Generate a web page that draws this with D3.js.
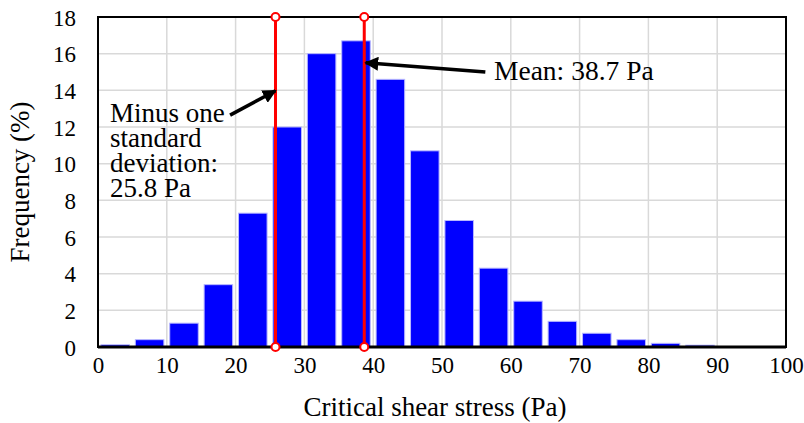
<!DOCTYPE html>
<html>
<head>
<meta charset="utf-8">
<script src="https://cdn.jsdelivr.net/npm/d3@7"></script>
<style>
  html, body { margin: 0; padding: 0; background: #fff; }
  svg text { font-family: "Times New Roman", "Liberation Serif", Tinos, "DejaVu Serif", serif !important; }
</style>
</head>
<body>
<svg id="chart" width="804" height="423"></svg>
<script>
// Histogram of critical shear stress, 5 Pa bins
const binStarts = [0, 5, 10, 15, 20, 25, 30, 35, 40, 45, 50, 55, 60, 65, 70, 75, 80, 85, 90, 95];
const frequency = [0.12, 0.4, 1.3, 3.4, 7.3, 12.0, 16.0, 16.7, 14.6, 10.7, 6.9, 4.3, 2.5, 1.4, 0.75, 0.4, 0.2, 0.1, 0, 0];
const binWidth = 5;

const xTicks = [0, 10, 20, 30, 40, 50, 60, 70, 80, 90, 100];
const yTicks = [0, 2, 4, 6, 8, 10, 12, 14, 16, 18];

const meanValue = 38.7;
const minusSdValue = 25.8;
const xLabel = "Critical shear stress (Pa)";
const yLabel = "Frequency (%)";
const meanLabel = ["Mean: 38.7 Pa"];
const sdLabel = ["Minus one", "standard", "deviation:", "25.8 Pa"];

const svg = d3.select("#chart");
const m = { left: 98, right: 18, top: 17, bottom: 76 };
const W = 804, H = 423;

const x = d3.scaleLinear().domain([0, 100]).range([m.left, W - m.right]);
const y = d3.scaleLinear().domain([0, 18]).range([H - m.bottom, m.top]);

// grid
const grid = svg.append("g").attr("stroke", "#d9d9d9").attr("stroke-width", 1.5);
grid.selectAll("line.v").data(xTicks.slice(1, -1)).join("line")
  .attr("x1", d => x(d)).attr("x2", d => x(d))
  .attr("y1", y(0)).attr("y2", y(18));
grid.selectAll("line.h").data(yTicks.slice(1, -1)).join("line")
  .attr("x1", x(0)).attr("x2", x(100))
  .attr("y1", d => y(d)).attr("y2", d => y(d));

// bars
const pad = 0.085;
svg.append("g").selectAll("rect").data(binStarts.map((s, i) => ({ s, v: frequency[i] })).filter(d => d.v > 0))
  .join("rect")
  .attr("x", d => x(d.s + binWidth * pad))
  .attr("width", d => x(d.s + binWidth * (1 - pad)) - x(d.s + binWidth * pad))
  .attr("y", d => y(d.v))
  .attr("height", d => y(0) - y(d.v))
  .attr("fill", "#0000ff")
  .attr("stroke", "#b8b8ff")
  .attr("stroke-width", 1);

// frame
svg.append("rect")
  .attr("x", x(0)).attr("y", y(18))
  .attr("width", x(100) - x(0)).attr("height", y(0) - y(18))
  .attr("fill", "none").attr("stroke", "#000").attr("stroke-width", 2);
svg.append("line")
  .attr("x1", x(0)).attr("x2", x(100)).attr("y1", y(0)).attr("y2", y(0))
  .attr("stroke", "#000").attr("stroke-width", 3);

// axes
const xAxis = svg.append("g").attr("transform", `translate(0,${y(0)})`)
  .call(d3.axisBottom(x).tickValues(xTicks).tickSize(0).tickPadding(10));
const yAxis = svg.append("g").attr("transform", `translate(${x(0)},0)`)
  .call(d3.axisLeft(y).tickValues(yTicks).tickSize(0).tickPadding(22));
[xAxis, yAxis].forEach(a => {
  a.select(".domain").remove();
  a.attr("font-family", null);
  a.selectAll("text").attr("font-size", 23).attr("fill", "#000");
});
yAxis.selectAll("text").attr("dy", "0.35em");

// axis titles
svg.append("text")
  .attr("x", (x(0) + x(100)) / 2 - 7).attr("y", 416)
  .attr("text-anchor", "middle").attr("font-size", 27).text(xLabel);
svg.append("text")
  .attr("transform", `translate(29,${(y(0) + y(18)) / 2}) rotate(-90)`)
  .attr("text-anchor", "middle").attr("font-size", 27).text(yLabel);

// reference lines
const refs = [minusSdValue, meanValue];
const rl = svg.append("g");
rl.selectAll("line").data(refs).join("line")
  .attr("x1", d => x(d)).attr("x2", d => x(d))
  .attr("y1", y(0)).attr("y2", y(18))
  .attr("stroke", "#ff0000").attr("stroke-width", 3);
refs.forEach(v => {
  [0, 18].forEach(t => {
    rl.append("circle").attr("cx", x(v)).attr("cy", y(t)).attr("r", 4)
      .attr("fill", "#fff").attr("stroke", "#ff0000").attr("stroke-width", 2);
  });
});

// arrows
const defs = svg.append("defs");
defs.append("marker").attr("id", "arrow").attr("viewBox", "0 0 10 10")
  .attr("refX", 9).attr("refY", 5).attr("markerWidth", 4).attr("markerHeight", 4)
  .attr("orient", "auto")
  .append("path").attr("d", "M0,0 L10,5 L0,10 Z").attr("fill", "#000");

const arrows = [
  { from: [19.2, 12.65], to: [minusSdValue, 13.98] },
  { from: [56.3, 15.0], to: [meanValue + 0.2, 15.5] }
];
svg.append("g").selectAll("line").data(arrows).join("line")
  .attr("x1", d => x(d.from[0])).attr("y1", d => y(d.from[1]))
  .attr("x2", d => x(d.to[0])).attr("y2", d => y(d.to[1]))
  .attr("stroke", "#000").attr("stroke-width", 3.5)
  .attr("marker-end", "url(#arrow)");

// annotation text
svg.append("text").attr("x", 494).attr("y", 79.5).attr("font-size", 27.5).text(meanLabel[0]);
const sd = svg.append("text").attr("x", 110).attr("y", 121.7).attr("font-size", 27);
sd.selectAll("tspan").data(sdLabel).join("tspan")
  .attr("x", 110).attr("dy", (d, i) => i === 0 ? 0 : 25).text(d => d);
</script>
</body>
</html>
